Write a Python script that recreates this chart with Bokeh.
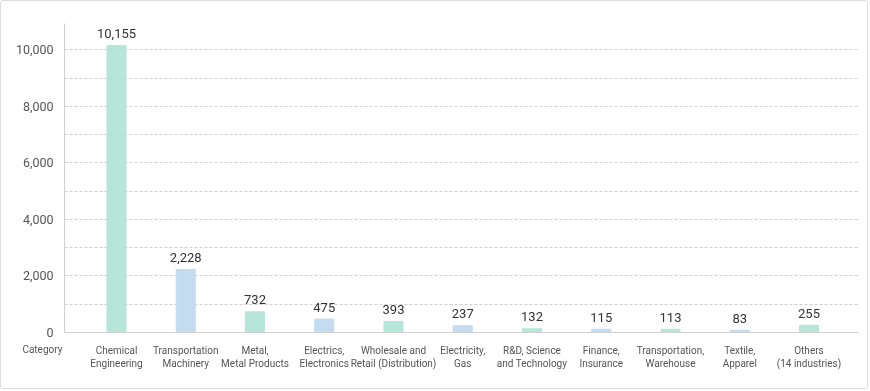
from bokeh.plotting import figure
from bokeh.models import FixedTicker, Label, Range1d, ColumnDataSource
from bokeh.core.properties import value
from bokeh.embed import file_html
from bokeh.resources import INLINE

categories = [
    "Chemical\nEngineering",
    "Transportation\nMachinery",
    "Metal,\nMetal Products",
    "Electrics,\nElectronics",
    "Wholesale and\nRetail (Distribution)",
    "Electricity,\nGas",
    "R&D, Science\nand Technology",
    "Finance,\nInsurance",
    "Transportation,\nWarehouse",
    "Textile,\nApparel",
    "Others\n(14 industries)",
]
values = [10155, 2228, 732, 475, 393, 237, 132, 115, 113, 83, 255]
y_ticks = [0, 2000, 4000, 6000, 8000, 10000]
grid_ticks = [1000, 2000, 3000, 4000, 5000, 6000, 7000, 8000, 9000, 10000]
axis_title = "Category"

MINT = "#b6e5d9"
BLUE = "#c3dcf0"
FONT = "Roboto"

xs = list(range(len(categories)))
colors = [MINT if i % 2 == 0 else BLUE for i in xs]
texts = [f"{v:,}" for v in values]
src = ColumnDataSource(dict(x=xs, top=values, color=colors, text=texts))

p = figure(
    width=868, height=389,
    output_backend="svg", toolbar_location=None,
    x_range=Range1d(-0.751, 10.715), y_range=Range1d(0, 10930),
    min_border_left=63, min_border_right=11, min_border_top=22, min_border_bottom=58,
    styles={"position": "fixed", "left": "0px", "top": "0px",
            "border": "1px solid #dcdcdc", "border-radius": "3px"},
)
p.outline_line_color = None
p.background_fill_color = "white"
p.border_fill_color = "white"

p.vbar(x="x", top="top", width=0.275, color="color", source=src)
p.text(x="x", y="top", text="text", source=src, y_offset=-12,
       text_align="center", text_baseline="alphabetic",
       text_font=value(FONT), text_font_size="13px", text_color="#333333")

# y axis
p.yaxis.ticker = FixedTicker(ticks=y_ticks)
p.yaxis.major_label_overrides = {t: f"{t:,}" for t in y_ticks}
p.yaxis.major_tick_line_color = None
p.yaxis.minor_tick_line_color = None
p.yaxis.axis_line_color = "#d0d0d0"
p.yaxis.major_label_text_font = FONT
p.yaxis.major_label_text_font_size = "12.5px"
p.yaxis.major_label_text_color = "#555555"
p.yaxis.major_label_standoff = 5

# x axis
p.xaxis.ticker = FixedTicker(ticks=xs)
p.xaxis.major_label_overrides = {i: c for i, c in zip(xs, categories)}
p.xaxis.major_tick_line_color = None
p.xaxis.minor_tick_line_color = None
p.xaxis.axis_line_color = "#d0d0d0"
p.xaxis.major_label_text_font = FONT
p.xaxis.major_label_text_font_size = "10px"
p.xaxis.major_label_text_color = "#555555"
p.xaxis.major_label_text_line_height = 1.2
p.xaxis.major_label_standoff = 6

p.xgrid.grid_line_color = None
p.ygrid.ticker = FixedTicker(ticks=grid_ticks)
p.ygrid.grid_line_color = "#cfcfcf"
p.ygrid.grid_line_dash = "3 2"

p.add_layout(Label(x=-1.07, y=-600, text=axis_title, text_align="center",
                   text_baseline="middle", text_font=FONT, text_font_size="10px",
                   text_color="#555555"), "above")

open("out.html", "w").write(file_html(p, INLINE))
